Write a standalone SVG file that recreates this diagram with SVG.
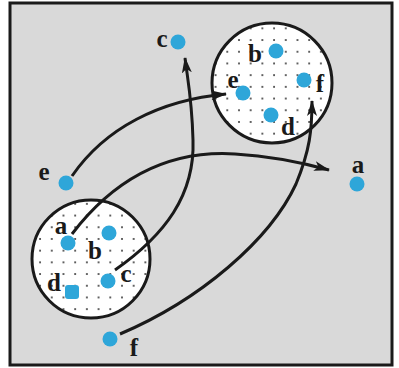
<svg xmlns="http://www.w3.org/2000/svg" width="399" height="368" viewBox="0 0 399 368">
<defs>
<pattern id="grid" width="11.7" height="11.7" patternUnits="userSpaceOnUse" x="3" y="3">
<circle cx="2" cy="2" r="1" fill="#333"/>
</pattern>
<marker id="arr" viewBox="0 0 16 10" refX="15" refY="5" markerWidth="16" markerHeight="10" markerUnits="userSpaceOnUse" orient="auto">
<path d="M0,0 L16,5 L0,10 L4,5 Z" fill="#1a1a1a"/>
</marker>
<style>
.pt{fill:#2ea6d9}
.lb{font-family:"Liberation Serif","Times New Roman",serif;font-weight:bold;font-size:25px;fill:#1a1a1a;text-anchor:middle}
.set{fill:url(#grid);stroke:#1a1a1a;stroke-width:3}
.cn{fill:none;stroke:#1a1a1a;stroke-width:3;marker-end:url(#arr)}
</style>
</defs>
<rect width="399" height="368" fill="#ffffff"/>
<rect id="frame" x="10" y="3" width="382" height="362" fill="#d9d9d9" stroke="#1a1a1a" stroke-width="3"/>
<g id="setTop">
<circle cx="272" cy="83" r="60" fill="#ffffff"/>
<circle class="set" cx="272" cy="83" r="60"/>
</g>
<g id="setBottom">
<circle cx="91" cy="259" r="59" fill="#ffffff"/>
<circle class="set" cx="91" cy="259" r="59"/>
</g>
<g id="connectors">
<path class="cn" d="M72,176 C105,128 160,100 226,94"/>
<path class="cn" d="M72,234 C115,178 170,150 235,154 C270,156 300,162 329,170"/>
<path class="cn" d="M115,270 C165,235 195,195 193,140 C192,100 188,82 185,58"/>
<path class="cn" d="M120,334 C200,300 270,240 296,184 C310,150 312,130 312,101"/>
</g>
<g id="node-c-out"><circle class="pt" cx="178" cy="42" r="7.5"/><text class="lb" x="162" y="47">c</text></g>
<g id="node-e-out"><circle class="pt" cx="66" cy="183" r="7.5"/><text class="lb" x="44" y="180">e</text></g>
<g id="node-a-out"><circle class="pt" cx="357" cy="184" r="7.5"/><text class="lb" x="358" y="173">a</text></g>
<g id="node-b-top"><circle class="pt" cx="276" cy="51" r="7.5"/><text class="lb" x="255" y="62">b</text></g>
<g id="node-e-top"><circle class="pt" cx="243" cy="93" r="7.5"/><text class="lb" x="233" y="88">e</text></g>
<g id="node-f-top"><circle class="pt" cx="304" cy="80" r="7.5"/><text class="lb" x="320" y="92">f</text></g>
<g id="node-d-top"><circle class="pt" cx="271" cy="115" r="7.5"/><text class="lb" x="288" y="135">d</text></g>
<g id="node-a-bot"><circle class="pt" cx="68" cy="243" r="7.5"/><text class="lb" x="61" y="234">a</text></g>
<g id="node-b-bot"><circle class="pt" cx="109" cy="233" r="7.5"/><text class="lb" x="95" y="259">b</text></g>
<g id="node-c-bot"><circle class="pt" cx="108" cy="281" r="7.5"/><text class="lb" x="126" y="282">c</text></g>
<g id="node-d-bot"><rect class="pt" x="65" y="285" width="14" height="14" rx="3"/><text class="lb" x="54" y="291">d</text></g>
<g id="node-f-out"><circle class="pt" cx="110" cy="339" r="7.5"/><text class="lb" x="134" y="356">f</text></g>
</svg>
